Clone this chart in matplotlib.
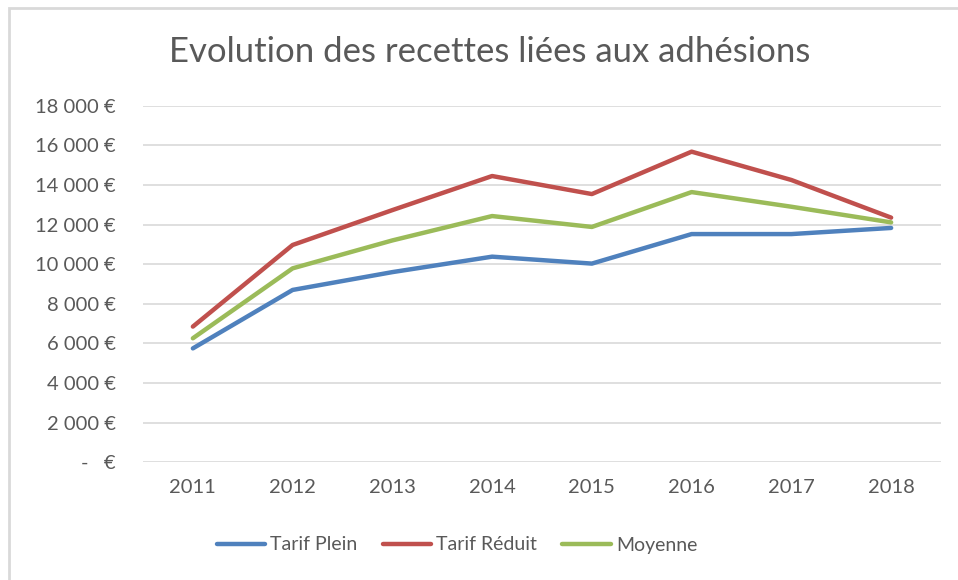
import matplotlib.pyplot as plt
from matplotlib.patches import Rectangle
from matplotlib.ticker import FuncFormatter

# data
years = ['2011', '2012', '2013', '2014', '2015', '2016', '2017', '2018']
tarif_plein = [5750, 8700, 9600, 10380, 10030, 11520, 11520, 11830]
tarif_reduit = [6850, 10970, 12730, 14450, 13540, 15680, 14250, 12350]
moyenne = [6260, 9790, 11200, 12430, 11880, 13640, 12900, 12110]
series_names = ['Tarif Plein', 'Tarif Réduit', 'Moyenne']
y_ticks = [0, 2000, 4000, 6000, 8000, 10000, 12000, 14000, 16000, 18000]

colors = ['#4F81BD', '#C0504D', '#9BBB59']
txt = '#595959'
font = 'Lato'

fig = plt.figure(figsize=(9.58, 5.8), dpi=100)
ax = fig.add_axes([143 / 958, 1 - 462.3 / 580, (941 - 143) / 958, (462.3 - 105.7) / 580])

# light chart border (only left and top visible in the crop)
fig.patches.append(Rectangle((9 / 958, -0.1), 1.2, 1.1 - 8 / 580, transform=fig.transFigure,
                             fill=False, edgecolor='#D9D9D9', linewidth=2))

x = list(range(len(years)))
for vals, name, c in zip([tarif_plein, tarif_reduit, moyenne], series_names, colors):
    ax.plot(x, vals, color=c, linewidth=3.2, label=name, solid_capstyle='round', zorder=3)

ax.set_xlim(-0.5, len(years) - 0.5)
ax.set_ylim(0, 18000)
ax.set_xticks(x)
ax.set_xticklabels(years)
ax.set_yticks(y_ticks)


def euro(v, pos):
    if v == 0:
        return '-   €'
    return f'{int(v):,} €'.replace(',', ' ')


ax.yaxis.set_major_formatter(FuncFormatter(euro))
ax.grid(axis='y', color='#D9D9D9', linewidth=1.2)
ax.set_axisbelow(True)
for s in ax.spines.values():
    s.set_visible(False)
ax.tick_params(length=0, colors=txt, labelsize=14.5)
ax.tick_params(axis='y', pad=19.5)
ax.tick_params(axis='x', pad=12)
for lab in ax.get_xticklabels() + ax.get_yticklabels():
    lab.set_fontfamily(font)

fig.text(0.511, 1 - 52 / 580, 'Evolution des recettes liées aux adhésions', ha='center', va='center',
         fontsize=25, color=txt, family=font)

leg = fig.legend(loc='center', bbox_to_anchor=(457 / 958, 1 - 545 / 580), ncol=3, frameon=False,
                 handlelength=2.5, handletextpad=0.25, columnspacing=1.3,
                 prop={'family': font, 'size': 14})
for t in leg.get_texts():
    t.set_color(txt)

fig.savefig('out.png', dpi=100)
